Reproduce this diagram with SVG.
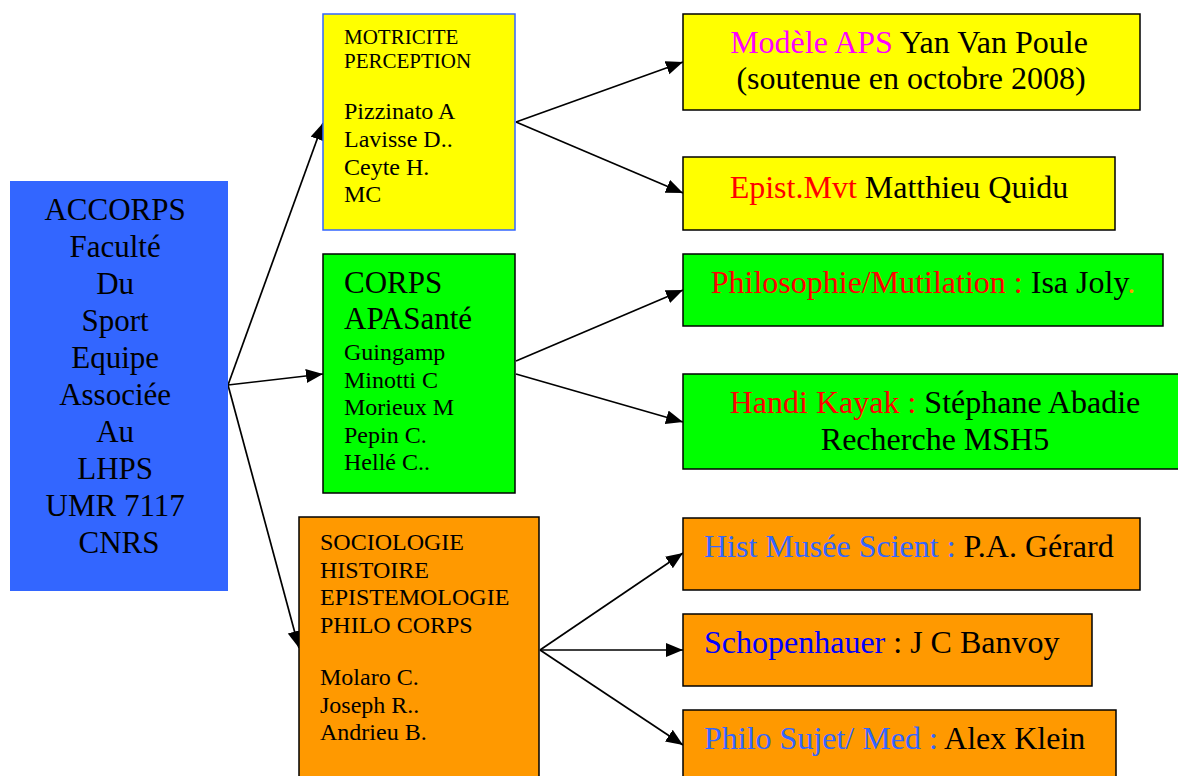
<svg xmlns="http://www.w3.org/2000/svg" width="1178" height="776" viewBox="0 0 1178 776">
<defs>
<marker id="arr" markerUnits="userSpaceOnUse" markerWidth="20" markerHeight="16" refX="17" refY="7" orient="auto">
<path d="M0,0 L17,7 L0,14 Z" fill="#000"/>
</marker>
<style>
text{font-family:"Liberation Serif","Times New Roman",serif;fill:#000}
.big{font-size:31px}
.mid{font-size:24px}
.sm{font-size:21px}
.rt{font-size:32px}
.box{stroke:#000;stroke-width:1.5}
.conn line{stroke:#000;stroke-width:1.7;marker-end:url(#arr)}
.red{fill:#FF0000}
.mag{fill:#FF00FF}
.lb{fill:#3366FF}
.bl{fill:#0000FF}
.or{fill:#FF9900}
</style>
</defs>
<rect width="1178" height="776" fill="#fff"/>
<g class="conn" id="connectors">
<line x1="228" y1="385" x2="323" y2="123"/>
<line x1="228" y1="385" x2="323" y2="374"/>
<line x1="228" y1="385" x2="299" y2="648"/>
<line x1="516" y1="122" x2="683" y2="62"/>
<line x1="516" y1="122" x2="683" y2="193"/>
<line x1="516" y1="361" x2="683" y2="290"/>
<line x1="516" y1="374" x2="683" y2="422"/>
<line x1="540" y1="650" x2="683" y2="553"/>
<line x1="540" y1="650" x2="683" y2="650"/>
<line x1="540" y1="650" x2="683" y2="745"/>
</g>
<g id="accorps">
<rect x="10" y="181" width="218" height="410" fill="#3366FF"/>
<text class="big" text-anchor="middle" x="119">
<tspan x="119" y="220">ACCORPS</tspan>
<tspan x="119" y="257">Faculté</tspan>
<tspan x="119" y="294">Du</tspan>
<tspan x="119" y="331">Sport</tspan>
<tspan x="119" y="368">Equipe</tspan>
<tspan x="119" y="405">Associée</tspan>
<tspan x="119" y="442">Au</tspan>
<tspan x="119" y="479">LHPS</tspan>
<tspan x="119" y="516">UMR 7117</tspan>
<tspan x="119" y="553">CNRS</tspan>
</text>
</g>
<g id="motricite">
<rect x="323" y="14" width="192" height="216" fill="#FFFF00" stroke="#3366FF" stroke-width="1.5"/>
<text class="sm"><tspan x="344" y="44">MOTRICITE</tspan><tspan x="344" y="68">PERCEPTION</tspan></text>
<text class="mid">
<tspan x="344" y="119">Pizzinato A</tspan>
<tspan x="344" y="147">Lavisse D..</tspan>
<tspan x="344" y="175">Ceyte H.</tspan>
<tspan x="344" y="202">MC</tspan>
</text>
</g>
<g id="corps">
<rect class="box" x="323" y="254" width="192" height="239" fill="#00FF00"/>
<text class="big"><tspan x="344" y="293">CORPS</tspan><tspan x="344" y="329">APASanté</tspan></text>
<text class="mid">
<tspan x="344" y="360">Guingamp</tspan>
<tspan x="344" y="388">Minotti C</tspan>
<tspan x="344" y="415">Morieux M</tspan>
<tspan x="344" y="443">Pepin C.</tspan>
<tspan x="344" y="470">Hellé C..</tspan>
</text>
</g>
<g id="sociologie">
<rect class="box" x="299" y="517" width="240" height="270" fill="#FF9900"/>
<text class="mid">
<tspan x="320" y="550">SOCIOLOGIE</tspan>
<tspan x="320" y="578">HISTOIRE</tspan>
<tspan x="320" y="605">EPISTEMOLOGIE</tspan>
<tspan x="320" y="633">PHILO CORPS</tspan>
<tspan x="320" y="685">Molaro C.</tspan>
<tspan x="320" y="713">Joseph R..</tspan>
<tspan x="320" y="740">Andrieu B.</tspan>
</text>
</g>
<g id="modele">
<rect class="box" x="683" y="14" width="457" height="96" fill="#FFFF00"/>
<text class="rt" text-anchor="middle"><tspan x="909" y="53"><tspan class="mag">Modèle APS</tspan> Yan Van Poule</tspan><tspan x="911" y="89">(soutenue en octobre 2008)</tspan></text>
</g>
<g id="epist">
<rect class="box" x="683" y="157" width="432" height="73" fill="#FFFF00"/>
<text class="rt" text-anchor="middle" x="899" y="198"><tspan class="red">Epist.Mvt</tspan> Matthieu Quidu</text>
</g>
<g id="philosophie">
<rect class="box" x="683" y="254" width="480" height="72" fill="#00FF00"/>
<text class="rt" text-anchor="middle" x="923" y="293"><tspan class="red">Philosophie/Mutilation : </tspan>Isa Joly<tspan class="or">.</tspan></text>
</g>
<g id="handi">
<rect class="box" x="683" y="374" width="500" height="95" fill="#00FF00"/>
<text class="rt" text-anchor="middle"><tspan x="935" y="413"><tspan class="red">Handi Kayak : </tspan>Stéphane Abadie</tspan><tspan x="935" y="450">Recherche MSH5</tspan></text>
</g>
<g id="hist">
<rect class="box" x="683" y="518" width="457" height="72" fill="#FF9900"/>
<text class="rt" x="704" y="557"><tspan class="lb">Hist Musée Scient : </tspan>P.A. Gérard</text>
</g>
<g id="schopenhauer">
<rect class="box" x="683" y="614" width="409" height="72" fill="#FF9900"/>
<text class="rt" x="704" y="653"><tspan class="bl">Schopenhauer</tspan> : J C Banvoy</text>
</g>
<g id="philosujet">
<rect class="box" x="683" y="710" width="433" height="80" fill="#FF9900"/>
<text class="rt" x="704" y="749"><tspan class="lb">Philo Sujet/ Med : </tspan>Alex Klein</text>
</g>
</svg>
